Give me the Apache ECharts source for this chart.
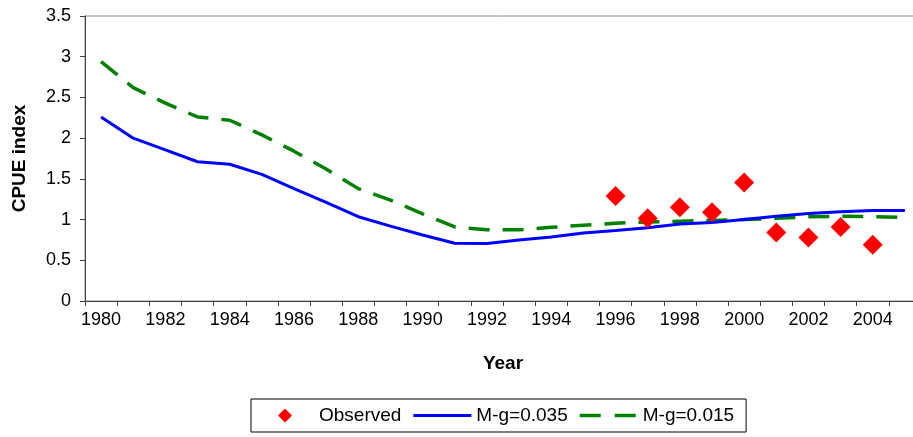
<!DOCTYPE html>
<html>
<head>
<meta charset="utf-8">
<script src="https://cdn.jsdelivr.net/npm/echarts@6/dist/echarts.min.js"></script>
<style>
  html, body { margin: 0; padding: 0; background: #fff; }
  #main { width: 913px; height: 437px; }
</style>
</head>
<body>
<div id="main"></div>
<script>
var years = ['1980', '1981', '1982', '1983', '1984', '1985', '1986', '1987', '1988', '1989',
    '1990', '1991', '1992', '1993', '1994', '1995', '1996', '1997', '1998', '1999',
    '2000', '2001', '2002', '2003', '2004', '2005'];

// M-g=0.035 (solid blue)
var mg035 = [2.26, 2.00, 1.855, 1.71, 1.68, 1.555, 1.38, 1.21, 1.035, 0.92,
    0.81, 0.71, 0.705, 0.75, 0.785, 0.835, 0.865, 0.90, 0.945, 0.965,
    1.00, 1.04, 1.075, 1.095, 1.11, 1.11];

// M-g=0.015 (dashed green)
var mg015 = [2.94, 2.62, 2.43, 2.26, 2.22, 2.04, 1.84, 1.62, 1.38, 1.24,
    1.07, 0.91, 0.875, 0.875, 0.905, 0.93, 0.955, 0.97, 0.98, 0.99,
    1.00, 1.015, 1.035, 1.04, 1.035, 1.025];

var obsYears = ['1996', '1997', '1998', '1999', '2000', '2001', '2002', '2003', '2004'];
var obsValues = [1.29, 1.015, 1.15, 1.09, 1.455, 0.84, 0.78, 0.91, 0.69];

var yTicks = { min: 0, max: 3.5, interval: 0.5 };

function pairs(xs, ys) {
    var res = [];
    for (var i = 0; i < xs.length; i++) {
        res.push([xs[i], ys[i]]);
    }
    return res;
}

// legend icons drawn in a 58 x 14 box (tiny end segments keep the box width)
var iconDiamond = 'path://M0,7L0.01,7M22,7L29,0L36,7L29,14ZM57.99,7L58,7';
var iconSolid = 'path://M0,5.5L58,5.5L58,8.5L0,8.5Z';
var iconDashed = 'path://M0,5.25L21,5.25L21,8.75L0,8.75ZM35,5.25L56,5.25L56,8.75L35,8.75ZM57.99,7L58,7';

var font = 'Liberation Sans, Arial, sans-serif';
var myChart = echarts.init(document.getElementById('main'));

var option = {
    backgroundColor: '#fff',
    animation: false,
    grid: {
        left: 85,
        top: 16,
        width: 836,
        bottom: 136,
        outerBoundsMode: 'none',
        show: true,
        borderColor: '#8c8c8c',
        borderWidth: 1
    },
    xAxis: {
        type: 'category',
        data: years,
        boundaryGap: true,
        name: 'Year',
        nameLocation: 'middle',
        nameGap: 53,
        nameTextStyle: { fontFamily: font, fontSize: 19, fontWeight: 'bold', color: '#000' },
        axisLine: { lineStyle: { color: '#404040', width: 1 } },
        axisTick: { show: true, interval: 0, length: 5, inside: false, lineStyle: { color: '#404040' } },
        axisLabel: { interval: 1, margin: 10, fontFamily: font, fontSize: 18, color: '#000' },
        splitLine: { show: false }
    },
    yAxis: {
        type: 'value',
        min: yTicks.min,
        max: yTicks.max,
        interval: yTicks.interval,
        name: 'CPUE index',
        nameLocation: 'middle',
        nameGap: 56,
        nameRotate: 90,
        nameTextStyle: { fontFamily: font, fontSize: 19, fontWeight: 'bold', color: '#000' },
        axisLine: { show: true, lineStyle: { color: '#404040', width: 1 } },
        axisTick: { show: true, length: 5, inside: false, lineStyle: { color: '#404040' } },
        axisLabel: { margin: 14, fontFamily: font, fontSize: 18, color: '#000' },
        splitLine: { show: false }
    },
    legend: {
        left: 251,
        top: 399,
        orient: 'horizontal',
        borderColor: '#000',
        borderWidth: 1,
        padding: [7, 12, 7, 5],
        itemWidth: 58,
        itemHeight: 14,
        itemGap: 12,
        textStyle: { fontFamily: font, fontSize: 19, color: '#000' },
        data: [
            { name: 'Observed', icon: iconDiamond },
            { name: 'M-g=0.035', icon: iconSolid },
            { name: 'M-g=0.015', icon: iconDashed }
        ]
    },
    series: [
        {
            name: 'Observed',
            type: 'scatter',
            data: pairs(obsYears, obsValues),
            symbol: 'diamond',
            symbolSize: 20,
            itemStyle: { color: '#ff0000', opacity: 1 },
            z: 5
        },
        {
            name: 'M-g=0.035',
            type: 'line',
            data: mg035,
            symbol: 'none',
            lineStyle: { color: '#0000ff', width: 3 },
            itemStyle: { color: '#0000ff' },
            z: 3
        },
        {
            name: 'M-g=0.015',
            type: 'line',
            data: mg015,
            symbol: 'none',
            lineStyle: { color: '#008000', width: 3.5, type: [21, 13] },
            itemStyle: { color: '#008000' },
            z: 2
        }
    ]
};

myChart.setOption(option);
</script>
</body>
</html>
